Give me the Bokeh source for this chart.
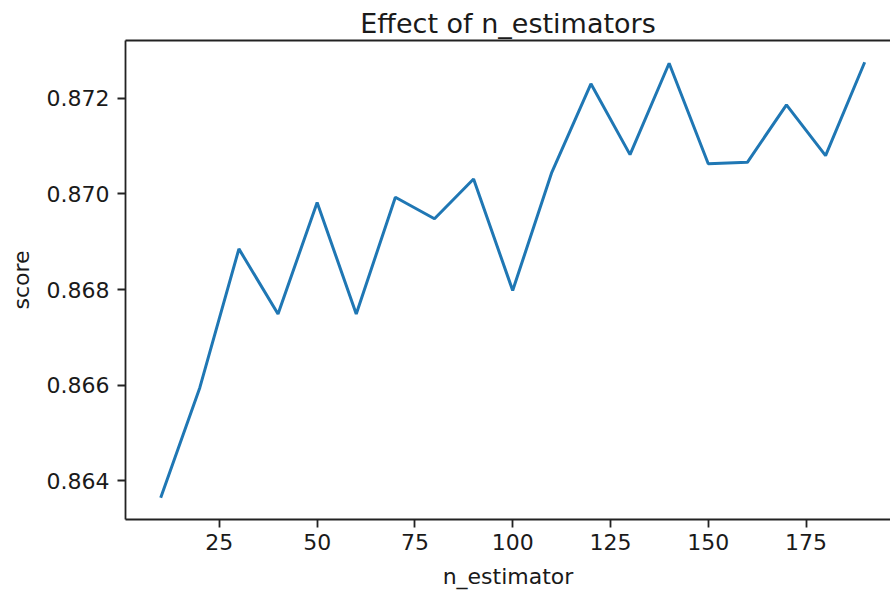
from bokeh.plotting import figure
from bokeh.models import Range1d, FixedTicker, PrintfTickFormatter, LinearAxis
from bokeh.embed import file_html
from bokeh.resources import INLINE

# data
n_estimators = [10, 20, 30, 40, 50, 60, 70, 80, 90, 100,
                110, 120, 130, 140, 150, 160, 170, 180, 190]
scores = [0.86365, 0.86595, 0.86885, 0.86749, 0.86982, 0.86749, 0.86993, 0.86948, 0.87031, 0.86798,
          0.87045, 0.87230, 0.87082, 0.87273, 0.87063, 0.87066, 0.87186, 0.87080, 0.87275]
x_ticks = [25, 50, 75, 100, 125, 150, 175]
y_ticks = [0.864, 0.866, 0.868, 0.870, 0.872]

FONT = "DejaVu Sans"
TXT = "#1a1a1a"

ymin, ymax = min(scores), max(scores)
ypad = 0.05 * (ymax - ymin)
xmin, xmax = min(n_estimators), max(n_estimators)
xpad = 0.05 * (xmax - xmin)

p = figure(width=890, height=591, output_backend="svg", toolbar_location=None,
           x_range=Range1d(xmin - xpad, 196.6),
           y_range=Range1d(ymin - ypad, ymax + ypad),
           min_border_left=125, min_border_right=0, min_border_top=40, min_border_bottom=72,
           title="Effect of n_estimators")

p.line(n_estimators, scores, line_color="#1f77b4", line_width=3)

p.outline_line_color = None
p.grid.visible = False
p.background_fill_color = "white"
p.border_fill_color = "white"

p.title.text_font = FONT
p.title.text_font_size = "27px"
p.title.text_font_style = "normal"
p.title.text_color = TXT
p.title.align = "center"
p.title.standoff = 3
p.title.offset = 0

for ax in (p.xaxis[0], p.yaxis[0]):
    ax.axis_line_color = "#222222"
    ax.axis_line_width = 1.8
    ax.major_tick_line_color = "#222222"
    ax.major_tick_line_width = 1.8
    ax.major_tick_out = 8
    ax.major_tick_in = 0
    ax.minor_tick_line_color = None
    ax.minor_tick_out = 0
    ax.major_label_text_font = FONT
    ax.major_label_text_font_size = "22px"
    ax.major_label_text_color = TXT
    ax.axis_label_text_font = FONT
    ax.axis_label_text_font_size = "22px"
    ax.axis_label_text_font_style = "normal"
    ax.axis_label_text_color = TXT

p.xaxis[0].ticker = FixedTicker(ticks=x_ticks)
p.xaxis[0].axis_label = "n_estimator"
p.xaxis[0].major_label_standoff = 6
p.xaxis[0].axis_label_standoff = 11

p.yaxis[0].ticker = FixedTicker(ticks=y_ticks)
p.yaxis[0].formatter = PrintfTickFormatter(format="%.3f")
p.yaxis[0].axis_label = "score"
p.yaxis[0].major_label_standoff = 8
p.yaxis[0].axis_label_standoff = 10

top = LinearAxis(axis_line_color="#222222", axis_line_width=1.8,
                 major_tick_line_color=None, minor_tick_line_color=None,
                 major_tick_out=0, major_tick_in=0, minor_tick_out=0, minor_tick_in=0,
                 major_label_text_font_size="0px", major_label_standoff=0)
top.ticker = FixedTicker(ticks=[])
p.add_layout(top, "above")

open("out.html", "w").write(file_html(p, INLINE))
